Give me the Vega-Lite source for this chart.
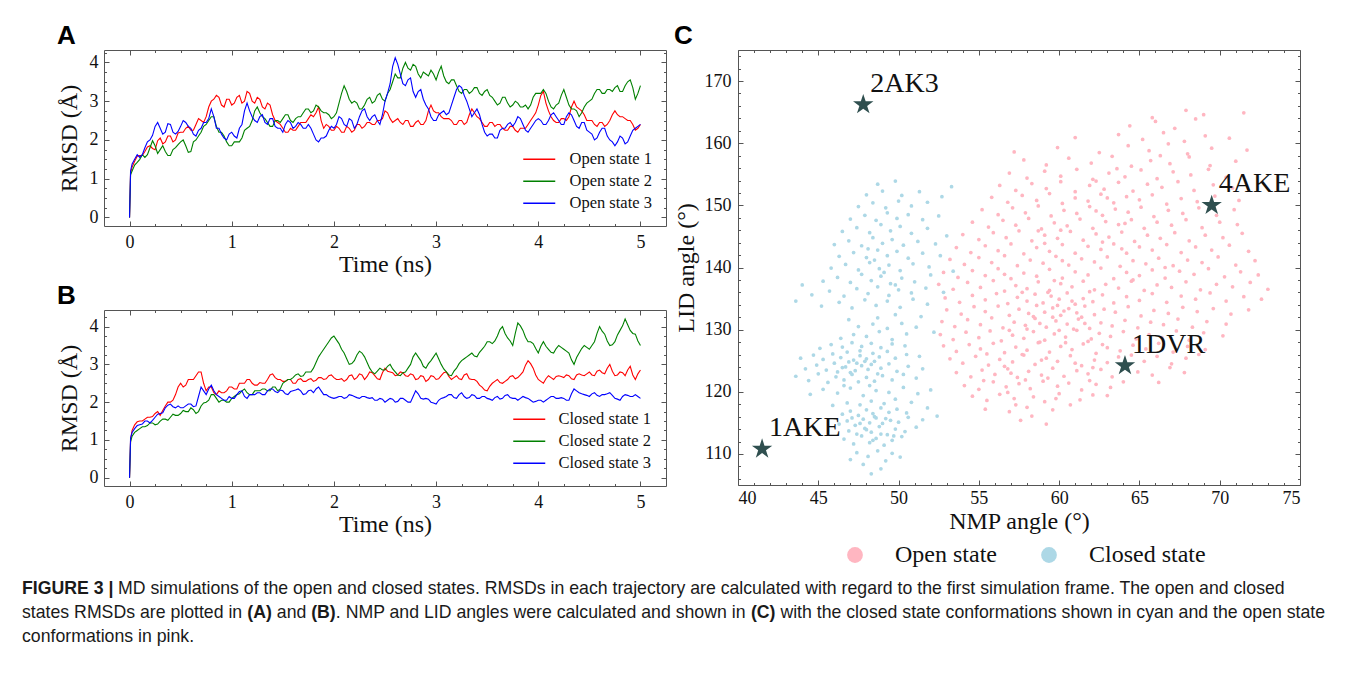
{
"$schema":"https://vega.github.io/schema/vega-lite/v6.json",
"padding":{"left":22,"top":22,"right":4,"bottom":4},
"background":"white",
"datasets":{
"rmsdA":[
{"t":0,"a":0,"b":0,"c":0},{"t":0.01,"a":1.15,"b":1.1,"c":1.2},{"t":0.05,"a":1.45,"b":1.35,"c":1.5},{"t":0.1,"a":1.6,"b":1.5,"c":1.55},{"t":0.15,"a":1.7,"b":1.55,"c":1.8},{"t":0.2,"a":1.85,"b":1.8,"c":2.0},{"t":0.25,"a":1.75,"b":1.85,"c":2.35},{"t":0.3,"a":2.05,"b":1.75,"c":2.3},{"t":0.35,"a":1.95,"b":1.7,"c":2.2},{"t":0.4,"a":2.1,"b":1.6,"c":2.4},{"t":0.45,"a":2.0,"b":1.8,"c":2.15},{"t":0.5,"a":2.2,"b":1.95,"c":2.35},{"t":0.55,"a":2.3,"b":1.85,"c":2.45},{"t":0.6,"a":2.25,"b":1.7,"c":2.3},{"t":0.65,"a":2.4,"b":2.0,"c":2.1},{"t":0.7,"a":2.5,"b":2.2,"c":2.3},{"t":0.75,"a":2.6,"b":2.4,"c":2.45},{"t":0.8,"a":3.0,"b":2.6,"c":2.8},{"t":0.85,"a":3.15,"b":2.35,"c":2.3},{"t":0.9,"a":2.9,"b":2.2,"c":2.15},{"t":0.95,"a":3.05,"b":1.95,"c":2.0},{"t":1.0,"a":2.9,"b":1.85,"c":2.2},{"t":1.05,"a":3.1,"b":1.95,"c":2.05},{"t":1.1,"a":2.95,"b":2.05,"c":2.4},{"t":1.15,"a":3.25,"b":2.3,"c":2.95},{"t":1.2,"a":3.0,"b":2.5,"c":2.6},{"t":1.25,"a":3.1,"b":2.85,"c":2.45},{"t":1.3,"a":2.85,"b":2.6,"c":2.65},{"t":1.35,"a":2.95,"b":2.45,"c":2.4},{"t":1.4,"a":2.65,"b":2.35,"c":2.55},{"t":1.45,"a":2.45,"b":2.5,"c":2.3},{"t":1.5,"a":2.3,"b":2.55,"c":2.2},{"t":1.55,"a":2.2,"b":2.65,"c":2.5},{"t":1.6,"a":2.25,"b":2.45,"c":2.3},{"t":1.65,"a":2.35,"b":2.6,"c":2.45},{"t":1.7,"a":2.45,"b":2.7,"c":2.3},{"t":1.75,"a":2.55,"b":2.8,"c":2.4},{"t":1.8,"a":2.6,"b":2.75,"c":2.15},{"t":1.85,"a":2.85,"b":2.85,"c":1.95},{"t":1.9,"a":2.3,"b":2.7,"c":2.05},{"t":1.95,"a":2.35,"b":2.65,"c":2.25},{"t":2.0,"a":2.25,"b":2.6,"c":2.3},{"t":2.05,"a":2.3,"b":2.95,"c":2.6},{"t":2.1,"a":2.2,"b":3.4,"c":2.4},{"t":2.15,"a":2.3,"b":3.05,"c":2.55},{"t":2.2,"a":2.25,"b":3.0,"c":2.3},{"t":2.25,"a":2.4,"b":2.8,"c":2.6},{"t":2.3,"a":2.35,"b":2.9,"c":2.8},{"t":2.35,"a":2.45,"b":3.1,"c":2.5},{"t":2.4,"a":2.4,"b":3.0,"c":2.65},{"t":2.45,"a":2.5,"b":3.2,"c":2.4},{"t":2.5,"a":2.75,"b":3.0,"c":3.0},{"t":2.55,"a":2.55,"b":3.3,"c":3.45},{"t":2.6,"a":2.5,"b":3.7,"c":4.12},{"t":2.65,"a":2.45,"b":3.6,"c":3.7},{"t":2.7,"a":2.5,"b":4.0,"c":3.4},{"t":2.75,"a":2.35,"b":3.8,"c":3.6},{"t":2.8,"a":2.45,"b":3.9,"c":3.1},{"t":2.85,"a":2.4,"b":3.6,"c":3.3},{"t":2.9,"a":2.5,"b":3.7,"c":2.9},{"t":2.95,"a":2.9,"b":3.8,"c":2.6},{"t":3.0,"a":2.7,"b":3.55,"c":2.5},{"t":3.05,"a":2.6,"b":3.9,"c":2.7},{"t":3.1,"a":2.55,"b":3.5,"c":2.65},{"t":3.15,"a":2.5,"b":3.55,"c":2.9},{"t":3.2,"a":2.4,"b":3.4,"c":3.3},{"t":3.25,"a":2.5,"b":3.2,"c":3.35},{"t":3.3,"a":2.45,"b":3.3,"c":3.0},{"t":3.35,"a":2.8,"b":3.25,"c":2.6},{"t":3.4,"a":2.6,"b":3.35,"c":2.8},{"t":3.45,"a":2.45,"b":3.15,"c":2.4},{"t":3.5,"a":2.35,"b":3.3,"c":2.1},{"t":3.55,"a":2.45,"b":3.1,"c":2.15},{"t":3.6,"a":2.4,"b":2.9,"c":2.05},{"t":3.65,"a":2.3,"b":3.1,"c":2.3},{"t":3.7,"a":2.25,"b":2.95,"c":2.4},{"t":3.75,"a":2.35,"b":2.9,"c":2.35},{"t":3.8,"a":2.2,"b":2.95,"c":2.6},{"t":3.85,"a":2.3,"b":2.85,"c":2.4},{"t":3.9,"a":2.4,"b":2.8,"c":2.2},{"t":3.95,"a":2.6,"b":3.1,"c":2.4},{"t":4.0,"a":2.9,"b":3.2,"c":2.55},{"t":4.05,"a":3.25,"b":3.3,"c":2.4},{"t":4.1,"a":2.75,"b":3.0,"c":2.5},{"t":4.15,"a":2.5,"b":2.8,"c":2.7},{"t":4.2,"a":2.45,"b":2.95,"c":2.5},{"t":4.25,"a":2.55,"b":3.3,"c":2.4},{"t":4.3,"a":2.6,"b":2.9,"c":2.7},{"t":4.35,"a":3.0,"b":2.8,"c":2.5},{"t":4.4,"a":2.8,"b":2.6,"c":2.3},{"t":4.45,"a":2.65,"b":2.85,"c":2.45},{"t":4.5,"a":2.5,"b":3.0,"c":2.2},{"t":4.55,"a":2.4,"b":3.2,"c":2.0},{"t":4.6,"a":2.45,"b":3.3,"c":2.2},{"t":4.65,"a":2.35,"b":3.2,"c":2.3},{"t":4.7,"a":2.5,"b":3.3,"c":2.0},{"t":4.75,"a":2.75,"b":3.35,"c":1.85},{"t":4.8,"a":2.6,"b":3.25,"c":2.1},{"t":4.85,"a":2.55,"b":3.4,"c":1.9},{"t":4.9,"a":2.5,"b":3.55,"c":2.1},{"t":4.95,"a":2.25,"b":3.05,"c":2.3},{"t":5.0,"a":2.4,"b":3.4,"c":2.4},
{"t":0.025,"a":1.3,"b":1.2,"c":1.38},{"t":0.075,"a":1.58,"b":1.42,"c":1.62},{"t":0.125,"a":1.6,"b":1.62,"c":1.62},{"t":0.175,"a":1.82,"b":1.62,"c":1.95},{"t":0.225,"a":1.78,"b":1.98,"c":2.12},{"t":0.275,"a":1.98,"b":1.65,"c":2.45},{"t":0.325,"a":1.9,"b":1.85,"c":2.15},{"t":0.375,"a":2.1,"b":1.6,"c":2.42},{"t":0.425,"a":1.95,"b":1.75,"c":2.2},{"t":0.475,"a":2.18,"b":1.88,"c":2.22},{"t":0.525,"a":2.2,"b":2.0,"c":2.5},{"t":0.575,"a":2.35,"b":1.68,"c":2.35},{"t":0.625,"a":2.25,"b":1.95,"c":2.15},{"t":0.675,"a":2.55,"b":2.1,"c":2.25},{"t":0.725,"a":2.45,"b":2.35,"c":2.45},{"t":0.775,"a":2.85,"b":2.5,"c":2.55},{"t":0.825,"a":3.05,"b":2.6,"c":2.6},{"t":0.875,"a":3.1,"b":2.2,"c":2.3},{"t":0.925,"a":2.85,"b":2.1,"c":2.05},{"t":0.975,"a":3.05,"b":1.85,"c":2.15},{"t":1.025,"a":2.95,"b":1.95,"c":2.1},{"t":1.075,"a":3.15,"b":1.95,"c":2.3},{"t":1.125,"a":3.0,"b":2.25,"c":2.75},{"t":1.175,"a":3.2,"b":2.35,"c":2.75},{"t":1.225,"a":2.95,"b":2.75,"c":2.5},{"t":1.275,"a":3.05,"b":2.7,"c":2.6},{"t":1.325,"a":2.8,"b":2.55,"c":2.45},{"t":1.375,"a":2.9,"b":2.35,"c":2.55},{"t":1.425,"a":2.5,"b":2.5,"c":2.35},{"t":1.475,"a":2.4,"b":2.45,"c":2.3},{"t":1.525,"a":2.2,"b":2.65,"c":2.4},{"t":1.575,"a":2.3,"b":2.5,"c":2.45},{"t":1.625,"a":2.25,"b":2.55,"c":2.35},{"t":1.675,"a":2.45,"b":2.6,"c":2.4},{"t":1.725,"a":2.45,"b":2.8,"c":2.3},{"t":1.775,"a":2.65,"b":2.7,"c":2.3},{"t":1.825,"a":2.7,"b":2.9,"c":2.0},{"t":1.875,"a":2.5,"b":2.75,"c":2.05},{"t":1.925,"a":2.4,"b":2.7,"c":2.1},{"t":1.975,"a":2.25,"b":2.55,"c":2.35},{"t":2.025,"a":2.35,"b":2.7,"c":2.4},{"t":2.075,"a":2.2,"b":3.2,"c":2.55},{"t":2.125,"a":2.35,"b":3.25,"c":2.35},{"t":2.175,"a":2.2,"b":2.95,"c":2.5},{"t":2.225,"a":2.4,"b":2.95,"c":2.4},{"t":2.275,"a":2.3,"b":2.8,"c":2.75},{"t":2.325,"a":2.45,"b":3.05,"c":2.6},{"t":2.375,"a":2.4,"b":2.95,"c":2.6},{"t":2.425,"a":2.5,"b":3.15,"c":2.5},{"t":2.475,"a":2.55,"b":3.05,"c":2.65},{"t":2.525,"a":2.7,"b":3.2,"c":3.2},{"t":2.575,"a":2.45,"b":3.5,"c":3.9},{"t":2.625,"a":2.55,"b":3.6,"c":3.95},{"t":2.675,"a":2.4,"b":3.85,"c":3.45},{"t":2.725,"a":2.5,"b":3.85,"c":3.55},{"t":2.775,"a":2.35,"b":3.95,"c":3.25},{"t":2.825,"a":2.5,"b":3.7,"c":3.25},{"t":2.875,"a":2.4,"b":3.75,"c":3.05},{"t":2.925,"a":2.75,"b":3.65,"c":2.8},{"t":2.975,"a":2.75,"b":3.7,"c":2.5},{"t":3.025,"a":2.7,"b":3.75,"c":2.65},{"t":3.075,"a":2.55,"b":3.65,"c":2.75},{"t":3.125,"a":2.55,"b":3.45,"c":2.7},{"t":3.175,"a":2.4,"b":3.55,"c":3.1},{"t":3.225,"a":2.5,"b":3.25,"c":3.4},{"t":3.275,"a":2.4,"b":3.3,"c":3.15},{"t":3.325,"a":2.65,"b":3.2,"c":2.8},{"t":3.375,"a":2.7,"b":3.35,"c":2.7},{"t":3.425,"a":2.55,"b":3.2,"c":2.65},{"t":3.475,"a":2.35,"b":3.25,"c":2.2},{"t":3.525,"a":2.45,"b":3.15,"c":2.15},{"t":3.575,"a":2.35,"b":3.0,"c":2.05},{"t":3.625,"a":2.4,"b":2.95,"c":2.25},{"t":3.675,"a":2.25,"b":3.1,"c":2.3},{"t":3.725,"a":2.35,"b":2.85,"c":2.45},{"t":3.775,"a":2.25,"b":3.0,"c":2.45},{"t":3.825,"a":2.3,"b":2.85,"c":2.55},{"t":3.875,"a":2.3,"b":2.9,"c":2.25},{"t":3.925,"a":2.5,"b":2.9,"c":2.3},{"t":3.975,"a":2.7,"b":3.2,"c":2.5},{"t":4.025,"a":3.15,"b":3.2,"c":2.5},{"t":4.075,"a":2.95,"b":3.2,"c":2.4},{"t":4.125,"a":2.6,"b":2.85,"c":2.65},{"t":4.175,"a":2.45,"b":2.9,"c":2.6},{"t":4.225,"a":2.55,"b":3.15,"c":2.4},{"t":4.275,"a":2.5,"b":3.1,"c":2.6},{"t":4.325,"a":2.85,"b":2.8,"c":2.65},{"t":4.375,"a":2.85,"b":2.75,"c":2.35},{"t":4.425,"a":2.75,"b":2.7,"c":2.45},{"t":4.475,"a":2.5,"b":2.95,"c":2.25},{"t":4.525,"a":2.5,"b":3.05,"c":2.15},{"t":4.575,"a":2.35,"b":3.3,"c":2.05},{"t":4.625,"a":2.45,"b":3.2,"c":2.3},{"t":4.675,"a":2.4,"b":3.3,"c":2.1},{"t":4.725,"a":2.65,"b":3.25,"c":1.95},{"t":4.775,"a":2.65,"b":3.4,"c":1.95},{"t":4.825,"a":2.6,"b":3.25,"c":2.05},{"t":4.875,"a":2.5,"b":3.5,"c":1.95},{"t":4.925,"a":2.4,"b":3.35,"c":2.25},{"t":4.975,"a":2.3,"b":3.2,"c":2.35}
],
"rmsdB":[
{"t":0,"a":0,"b":0,"c":0},{"t":0.01,"a":1.0,"b":0.95,"c":1.05},{"t":0.05,"a":1.4,"b":1.2,"c":1.3},{"t":0.1,"a":1.5,"b":1.3,"c":1.4},{"t":0.15,"a":1.55,"b":1.35,"c":1.5},{"t":0.2,"a":1.6,"b":1.45,"c":1.45},{"t":0.25,"a":1.7,"b":1.4,"c":1.6},{"t":0.3,"a":1.65,"b":1.5,"c":1.7},{"t":0.35,"a":1.9,"b":1.55,"c":1.85},{"t":0.4,"a":2.0,"b":1.6,"c":1.95},{"t":0.45,"a":2.2,"b":1.65,"c":1.85},{"t":0.5,"a":2.5,"b":1.7,"c":1.85},{"t":0.55,"a":2.45,"b":1.75,"c":1.9},{"t":0.6,"a":2.6,"b":1.85,"c":1.95},{"t":0.65,"a":2.7,"b":1.7,"c":1.9},{"t":0.7,"a":2.8,"b":1.9,"c":2.4},{"t":0.75,"a":2.3,"b":2.0,"c":2.2},{"t":0.8,"a":2.4,"b":2.2,"c":2.45},{"t":0.85,"a":2.2,"b":2.1,"c":2.2},{"t":0.9,"a":2.25,"b":2.05,"c":2.1},{"t":0.95,"a":2.3,"b":2.0,"c":2.05},{"t":1.0,"a":2.4,"b":2.1,"c":2.1},{"t":1.05,"a":2.35,"b":2.2,"c":2.2},{"t":1.1,"a":2.5,"b":2.3,"c":2.3},{"t":1.15,"a":2.6,"b":2.25,"c":2.1},{"t":1.2,"a":2.5,"b":2.2,"c":2.2},{"t":1.25,"a":2.45,"b":2.3,"c":2.25},{"t":1.3,"a":2.5,"b":2.35,"c":2.2},{"t":1.35,"a":2.6,"b":2.3,"c":2.3},{"t":1.4,"a":2.75,"b":2.4,"c":2.35},{"t":1.45,"a":2.6,"b":2.3,"c":2.25},{"t":1.5,"a":2.55,"b":2.5,"c":2.3},{"t":1.55,"a":2.6,"b":2.6,"c":2.2},{"t":1.6,"a":2.5,"b":2.65,"c":2.3},{"t":1.65,"a":2.6,"b":2.75,"c":2.35},{"t":1.7,"a":2.55,"b":2.7,"c":2.2},{"t":1.75,"a":2.6,"b":2.8,"c":2.3},{"t":1.8,"a":2.55,"b":2.9,"c":2.25},{"t":1.85,"a":2.65,"b":3.2,"c":2.4},{"t":1.9,"a":2.6,"b":3.4,"c":2.2},{"t":1.95,"a":2.7,"b":3.6,"c":2.15},{"t":2.0,"a":2.65,"b":3.75,"c":2.1},{"t":2.05,"a":2.6,"b":3.55,"c":2.15},{"t":2.1,"a":2.55,"b":3.3,"c":2.1},{"t":2.15,"a":2.7,"b":3.0,"c":2.2},{"t":2.2,"a":2.6,"b":3.1,"c":2.15},{"t":2.25,"a":2.75,"b":3.35,"c":2.1},{"t":2.3,"a":2.6,"b":3.2,"c":2.15},{"t":2.35,"a":2.8,"b":2.9,"c":2.1},{"t":2.4,"a":2.7,"b":2.75,"c":2.05},{"t":2.45,"a":2.6,"b":2.9,"c":2.1},{"t":2.5,"a":2.9,"b":2.85,"c":2.0},{"t":2.55,"a":2.8,"b":3.0,"c":2.1},{"t":2.6,"a":2.7,"b":2.8,"c":2.0},{"t":2.65,"a":2.8,"b":2.7,"c":2.1},{"t":2.7,"a":2.7,"b":2.8,"c":2.05},{"t":2.75,"a":2.75,"b":3.0,"c":2.0},{"t":2.8,"a":2.6,"b":3.3,"c":2.3},{"t":2.85,"a":2.7,"b":3.1,"c":2.1},{"t":2.9,"a":2.55,"b":2.9,"c":2.1},{"t":2.95,"a":2.7,"b":3.1,"c":2.0},{"t":3.0,"a":2.6,"b":3.3,"c":1.95},{"t":3.05,"a":2.7,"b":3.0,"c":2.1},{"t":3.1,"a":2.8,"b":2.8,"c":2.15},{"t":3.15,"a":2.6,"b":2.7,"c":2.2},{"t":3.2,"a":2.7,"b":2.9,"c":2.1},{"t":3.25,"a":2.6,"b":3.1,"c":2.25},{"t":3.3,"a":2.75,"b":3.2,"c":2.1},{"t":3.35,"a":2.6,"b":3.3,"c":2.2},{"t":3.4,"a":2.55,"b":3.2,"c":2.1},{"t":3.45,"a":2.4,"b":3.4,"c":2.15},{"t":3.5,"a":2.3,"b":3.6,"c":2.1},{"t":3.55,"a":2.5,"b":3.55,"c":2.05},{"t":3.6,"a":2.6,"b":3.75,"c":2.15},{"t":3.65,"a":2.5,"b":4.0,"c":2.1},{"t":3.7,"a":2.6,"b":3.7,"c":2.2},{"t":3.75,"a":2.7,"b":3.5,"c":2.1},{"t":3.8,"a":2.65,"b":4.1,"c":2.05},{"t":3.85,"a":2.8,"b":3.9,"c":2.15},{"t":3.9,"a":3.1,"b":3.6,"c":2.1},{"t":3.95,"a":2.9,"b":3.55,"c":2.0},{"t":4.0,"a":2.6,"b":3.3,"c":2.05},{"t":4.05,"a":2.5,"b":3.6,"c":2.0},{"t":4.1,"a":2.7,"b":3.4,"c":2.1},{"t":4.15,"a":2.6,"b":3.3,"c":2.15},{"t":4.2,"a":2.7,"b":3.5,"c":2.1},{"t":4.25,"a":2.65,"b":3.4,"c":2.1},{"t":4.3,"a":2.7,"b":3.3,"c":2.05},{"t":4.35,"a":2.6,"b":3.0,"c":2.35},{"t":4.4,"a":2.75,"b":3.3,"c":2.25},{"t":4.45,"a":2.7,"b":3.5,"c":2.2},{"t":4.5,"a":2.8,"b":3.4,"c":2.15},{"t":4.55,"a":2.7,"b":3.6,"c":2.25},{"t":4.6,"a":2.85,"b":4.0,"c":2.15},{"t":4.65,"a":2.75,"b":3.8,"c":2.2},{"t":4.7,"a":3.0,"b":3.5,"c":2.25},{"t":4.75,"a":2.7,"b":3.6,"c":2.1},{"t":4.8,"a":2.8,"b":3.9,"c":2.05},{"t":4.85,"a":2.7,"b":4.2,"c":2.2},{"t":4.9,"a":2.95,"b":3.9,"c":2.15},{"t":4.95,"a":2.6,"b":3.8,"c":2.2},{"t":5.0,"a":2.85,"b":3.5,"c":2.1},
{"t":0.025,"a":1.25,"b":1.1,"c":1.2},{"t":0.075,"a":1.48,"b":1.25,"c":1.38},{"t":0.125,"a":1.5,"b":1.35,"c":1.42},{"t":0.175,"a":1.6,"b":1.38,"c":1.5},{"t":0.225,"a":1.62,"b":1.45,"c":1.52},{"t":0.275,"a":1.75,"b":1.42,"c":1.68},{"t":0.325,"a":1.78,"b":1.55,"c":1.72},{"t":0.375,"a":2.0,"b":1.52,"c":1.92},{"t":0.425,"a":2.05,"b":1.68,"c":1.88},{"t":0.475,"a":2.4,"b":1.65,"c":1.9},{"t":0.525,"a":2.4,"b":1.78,"c":1.85},{"t":0.575,"a":2.6,"b":1.75,"c":1.95},{"t":0.625,"a":2.6,"b":1.8,"c":1.88},{"t":0.675,"a":2.8,"b":1.75,"c":2.15},{"t":0.725,"a":2.5,"b":1.98,"c":2.3},{"t":0.775,"a":2.4,"b":2.05,"c":2.35},{"t":0.825,"a":2.25,"b":2.2,"c":2.3},{"t":0.875,"a":2.3,"b":2.0,"c":2.15},{"t":0.925,"a":2.25,"b":2.05,"c":2.05},{"t":0.975,"a":2.4,"b":2.0,"c":2.15},{"t":1.025,"a":2.35,"b":2.15,"c":2.1},{"t":1.075,"a":2.5,"b":2.22,"c":2.28},{"t":1.125,"a":2.5,"b":2.35,"c":2.15},{"t":1.175,"a":2.6,"b":2.2,"c":2.2},{"t":1.225,"a":2.45,"b":2.3,"c":2.2},{"t":1.275,"a":2.52,"b":2.3,"c":2.25},{"t":1.325,"a":2.5,"b":2.35,"c":2.2},{"t":1.375,"a":2.72,"b":2.3,"c":2.35},{"t":1.425,"a":2.65,"b":2.4,"c":2.28},{"t":1.475,"a":2.6,"b":2.35,"c":2.32},{"t":1.525,"a":2.55,"b":2.55,"c":2.22},{"t":1.575,"a":2.6,"b":2.6,"c":2.28},{"t":1.625,"a":2.5,"b":2.72,"c":2.32},{"t":1.675,"a":2.62,"b":2.68,"c":2.3},{"t":1.725,"a":2.55,"b":2.8,"c":2.22},{"t":1.775,"a":2.62,"b":2.8,"c":2.32},{"t":1.825,"a":2.58,"b":3.05,"c":2.35},{"t":1.875,"a":2.65,"b":3.3,"c":2.3},{"t":1.925,"a":2.62,"b":3.5,"c":2.2},{"t":1.975,"a":2.72,"b":3.7,"c":2.12},{"t":2.025,"a":2.6,"b":3.65,"c":2.12},{"t":2.075,"a":2.62,"b":3.4,"c":2.15},{"t":2.125,"a":2.6,"b":3.15,"c":2.12},{"t":2.175,"a":2.72,"b":3.02,"c":2.18},{"t":2.225,"a":2.65,"b":3.25,"c":2.12},{"t":2.275,"a":2.72,"b":3.3,"c":2.15},{"t":2.325,"a":2.68,"b":3.05,"c":2.12},{"t":2.375,"a":2.78,"b":2.8,"c":2.12},{"t":2.425,"a":2.62,"b":2.82,"c":2.05},{"t":2.475,"a":2.78,"b":2.85,"c":2.08},{"t":2.525,"a":2.82,"b":2.95,"c":2.05},{"t":2.575,"a":2.78,"b":2.88,"c":2.08},{"t":2.625,"a":2.72,"b":2.72,"c":2.02},{"t":2.675,"a":2.78,"b":2.78,"c":2.1},{"t":2.725,"a":2.68,"b":2.9,"c":2.0},{"t":2.775,"a":2.72,"b":3.2,"c":2.15},{"t":2.825,"a":2.62,"b":3.2,"c":2.22},{"t":2.875,"a":2.68,"b":2.95,"c":2.08},{"t":2.925,"a":2.6,"b":3.02,"c":2.08},{"t":2.975,"a":2.68,"b":3.2,"c":1.98},{"t":3.025,"a":2.62,"b":3.15,"c":2.05},{"t":3.075,"a":2.78,"b":2.88,"c":2.12},{"t":3.125,"a":2.68,"b":2.72,"c":2.2},{"t":3.175,"a":2.65,"b":2.82,"c":2.12},{"t":3.225,"a":2.62,"b":3.02,"c":2.2},{"t":3.275,"a":2.72,"b":3.15,"c":2.15},{"t":3.325,"a":2.62,"b":3.25,"c":2.12},{"t":3.375,"a":2.6,"b":3.22,"c":2.18},{"t":3.425,"a":2.45,"b":3.32,"c":2.1},{"t":3.475,"a":2.32,"b":3.48,"c":2.15},{"t":3.525,"a":2.42,"b":3.6,"c":2.08},{"t":3.575,"a":2.55,"b":3.62,"c":2.12},{"t":3.625,"a":2.52,"b":3.92,"c":2.08},{"t":3.675,"a":2.55,"b":3.82,"c":2.18},{"t":3.725,"a":2.68,"b":3.62,"c":2.12},{"t":3.775,"a":2.62,"b":3.82,"c":2.1},{"t":3.825,"a":2.72,"b":4.02,"c":2.1},{"t":3.875,"a":2.98,"b":3.72,"c":2.12},{"t":3.925,"a":3.02,"b":3.6,"c":2.05},{"t":3.975,"a":2.72,"b":3.42,"c":2.02},{"t":4.025,"a":2.55,"b":3.48,"c":2.05},{"t":4.075,"a":2.62,"b":3.48,"c":2.05},{"t":4.125,"a":2.65,"b":3.32,"c":2.15},{"t":4.175,"a":2.68,"b":3.42,"c":2.1},{"t":4.225,"a":2.68,"b":3.45,"c":2.12},{"t":4.275,"a":2.72,"b":3.35,"c":2.05},{"t":4.325,"a":2.62,"b":3.12,"c":2.22},{"t":4.375,"a":2.72,"b":3.18,"c":2.3},{"t":4.425,"a":2.72,"b":3.42,"c":2.22},{"t":4.475,"a":2.75,"b":3.45,"c":2.18},{"t":4.525,"a":2.72,"b":3.5,"c":2.22},{"t":4.575,"a":2.82,"b":3.82,"c":2.18},{"t":4.625,"a":2.78,"b":3.88,"c":2.2},{"t":4.675,"a":2.9,"b":3.62,"c":2.22},{"t":4.725,"a":2.82,"b":3.52,"c":2.18},{"t":4.775,"a":2.72,"b":3.78,"c":2.08},{"t":4.825,"a":2.78,"b":4.02,"c":2.15},{"t":4.875,"a":2.85,"b":4.05,"c":2.18},{"t":4.925,"a":2.72,"b":3.82,"c":2.15},{"t":4.975,"a":2.75,"b":3.62,"c":2.15}
],
"namesA":[{"k":"a","name":"Open state 1"},{"k":"b","name":"Open state 2"},{"k":"c","name":"Open state 3"}],
"namesB":[{"k":"a","name":"Closed state 1"},{"k":"b","name":"Closed state 2"},{"k":"c","name":"Closed state 3"}],
"openpts":[
{"x":57.6,"y":115.4},{"x":59.2,"y":114.8},{"x":58.3,"y":116.1},
{"x":55.4,"y":117.2},{"x":56.9,"y":116.8},{"x":58.0,"y":117.5},{"x":59.6,"y":117.1},{"x":60.7,"y":117.9},{"x":57.3,"y":117.9},
{"x":54.6,"y":119.3},{"x":55.5,"y":118.6},{"x":56.3,"y":119.6},{"x":57.2,"y":118.9},{"x":58.4,"y":119.2},{"x":59.1,"y":118.4},{"x":60.0,"y":119.7},{"x":61.3,"y":118.7},{"x":62.1,"y":119.5},{"x":56.8,"y":119.9},{"x":59.8,"y":118.9},{"x":63.0,"y":119.4},
{"x":54.1,"y":121.0},{"x":55.0,"y":120.4},{"x":55.9,"y":121.6},{"x":56.7,"y":120.8},{"x":57.5,"y":121.3},{"x":58.2,"y":120.5},{"x":59.0,"y":121.7},{"x":59.9,"y":120.9},{"x":60.6,"y":121.4},{"x":61.4,"y":120.3},{"x":62.3,"y":121.2},{"x":63.2,"y":120.7},{"x":64.0,"y":121.6},{"x":57.9,"y":121.9},{"x":55.3,"y":121.8},{"x":61.9,"y":121.8},{"x":66.2,"y":121.5},
{"x":53.6,"y":123.1},{"x":54.5,"y":122.4},{"x":55.2,"y":123.5},{"x":56.0,"y":122.8},{"x":56.8,"y":123.7},{"x":57.4,"y":122.3},{"x":58.1,"y":123.3},{"x":58.9,"y":122.7},{"x":59.6,"y":123.8},{"x":60.3,"y":122.5},{"x":61.1,"y":123.4},{"x":61.8,"y":122.9},{"x":62.6,"y":123.6},{"x":63.3,"y":122.4},{"x":64.9,"y":123.2},{"x":65.8,"y":122.7},{"x":66.9,"y":123.9},{"x":67.8,"y":123.1},{"x":57.0,"y":123.0},{"x":59.3,"y":122.2},{"x":62.1,"y":123.9},
{"x":53.2,"y":125.3},{"x":54.0,"y":124.6},{"x":54.8,"y":125.7},{"x":55.6,"y":124.3},{"x":56.3,"y":125.2},{"x":57.1,"y":124.8},{"x":57.8,"y":125.9},{"x":58.5,"y":124.4},{"x":59.2,"y":125.4},{"x":59.9,"y":124.9},{"x":60.7,"y":125.8},{"x":61.4,"y":124.2},{"x":62.2,"y":125.1},{"x":63.0,"y":124.7},{"x":63.7,"y":125.6},{"x":65.3,"y":124.9},{"x":66.1,"y":125.7},{"x":67.0,"y":124.5},{"x":67.9,"y":125.4},{"x":68.7,"y":126.0},{"x":56.6,"y":124.1},{"x":58.9,"y":125.1},{"x":61.0,"y":124.6},{"x":64.5,"y":125.9},
{"x":52.8,"y":127.4},{"x":53.6,"y":126.5},{"x":54.4,"y":127.6},{"x":55.1,"y":126.9},{"x":55.9,"y":127.8},{"x":56.6,"y":126.3},{"x":57.3,"y":127.2},{"x":58.0,"y":126.7},{"x":58.7,"y":127.9},{"x":59.4,"y":126.4},{"x":60.1,"y":127.3},{"x":60.8,"y":126.8},{"x":61.5,"y":127.7},{"x":62.3,"y":126.2},{"x":63.0,"y":127.1},{"x":63.8,"y":126.6},{"x":64.6,"y":127.5},{"x":65.4,"y":126.9},{"x":66.2,"y":127.8},{"x":67.1,"y":126.4},{"x":68.0,"y":127.3},{"x":69.1,"y":126.8},{"x":57.7,"y":126.0},{"x":60.4,"y":127.9},{"x":62.7,"y":127.6},{"x":55.5,"y":126.1},
{"x":52.6,"y":129.2},{"x":53.4,"y":128.4},{"x":54.2,"y":129.6},{"x":55.0,"y":128.7},{"x":55.7,"y":129.8},{"x":56.4,"y":128.2},{"x":57.1,"y":129.1},{"x":57.8,"y":128.6},{"x":58.4,"y":129.7},{"x":59.1,"y":128.3},{"x":59.7,"y":129.3},{"x":60.4,"y":128.8},{"x":61.1,"y":129.9},{"x":61.8,"y":128.1},{"x":62.5,"y":129.4},{"x":63.2,"y":128.9},{"x":64.0,"y":129.7},{"x":64.8,"y":128.5},{"x":65.6,"y":129.2},{"x":66.4,"y":128.7},{"x":67.3,"y":129.8},{"x":68.1,"y":128.3},{"x":69.0,"y":129.5},{"x":70.2,"y":129.0},{"x":58.8,"y":128.0},{"x":60.0,"y":129.9},{"x":62.0,"y":128.5},{"x":56.9,"y":129.9},
{"x":52.7,"y":131.3},{"x":53.5,"y":130.5},{"x":54.3,"y":131.6},{"x":55.1,"y":130.8},{"x":55.8,"y":131.9},{"x":56.5,"y":130.3},{"x":57.2,"y":131.2},{"x":57.9,"y":130.7},{"x":58.5,"y":131.8},{"x":59.2,"y":130.4},{"x":59.8,"y":131.4},{"x":60.5,"y":130.9},{"x":61.2,"y":131.7},{"x":61.9,"y":130.2},{"x":62.6,"y":131.1},{"x":63.3,"y":130.6},{"x":64.1,"y":131.5},{"x":64.9,"y":130.3},{"x":65.7,"y":131.2},{"x":66.5,"y":130.8},{"x":67.4,"y":131.7},{"x":68.3,"y":130.4},{"x":69.2,"y":131.3},{"x":70.4,"y":130.9},{"x":58.0,"y":130.1},{"x":59.6,"y":132.0},{"x":60.9,"y":130.1},{"x":58.8,"y":131.0},{"x":61.6,"y":131.0},
{"x":53.0,"y":133.2},{"x":53.9,"y":132.5},{"x":54.7,"y":133.7},{"x":55.4,"y":132.9},{"x":56.2,"y":133.8},{"x":56.9,"y":132.3},{"x":57.5,"y":133.3},{"x":58.1,"y":132.6},{"x":58.6,"y":133.9},{"x":59.1,"y":132.8},{"x":59.6,"y":133.5},{"x":60.1,"y":132.3},{"x":60.6,"y":133.4},{"x":61.1,"y":132.7},{"x":61.6,"y":133.8},{"x":62.2,"y":132.4},{"x":62.8,"y":133.3},{"x":63.5,"y":132.8},{"x":64.3,"y":133.7},{"x":65.1,"y":132.2},{"x":65.9,"y":133.1},{"x":66.8,"y":132.6},{"x":67.7,"y":133.6},{"x":68.6,"y":132.9},{"x":69.6,"y":133.4},{"x":70.7,"y":132.5},{"x":71.8,"y":133.2},{"x":58.4,"y":132.1},{"x":59.9,"y":133.9},{"x":61.4,"y":132.0},{"x":60.3,"y":133.0},
{"x":52.9,"y":135.1},{"x":53.8,"y":134.4},{"x":54.6,"y":135.5},{"x":55.4,"y":134.8},{"x":56.1,"y":135.8},{"x":56.8,"y":134.2},{"x":57.4,"y":135.2},{"x":58.0,"y":134.6},{"x":58.5,"y":135.7},{"x":59.0,"y":134.3},{"x":59.5,"y":135.4},{"x":60.0,"y":134.9},{"x":60.5,"y":135.9},{"x":61.0,"y":134.1},{"x":61.5,"y":135.0},{"x":62.1,"y":134.5},{"x":62.7,"y":135.6},{"x":63.4,"y":134.3},{"x":64.2,"y":135.3},{"x":65.0,"y":134.7},{"x":65.8,"y":135.8},{"x":66.7,"y":134.4},{"x":67.6,"y":135.4},{"x":68.5,"y":134.9},{"x":69.4,"y":135.9},{"x":70.4,"y":134.6},{"x":71.5,"y":135.3},{"x":72.6,"y":134.9},{"x":59.3,"y":136.0},{"x":60.8,"y":134.6},{"x":57.7,"y":136.0},
{"x":52.5,"y":137.3},{"x":53.4,"y":136.5},{"x":54.3,"y":137.6},{"x":55.1,"y":136.8},{"x":55.9,"y":137.9},{"x":56.6,"y":136.2},{"x":57.3,"y":137.1},{"x":58.0,"y":136.6},{"x":58.7,"y":137.7},{"x":59.4,"y":136.3},{"x":60.1,"y":137.4},{"x":60.8,"y":136.9},{"x":61.5,"y":137.8},{"x":62.2,"y":136.4},{"x":62.9,"y":137.3},{"x":63.7,"y":136.7},{"x":64.5,"y":137.8},{"x":65.3,"y":136.3},{"x":66.1,"y":137.2},{"x":67.0,"y":136.8},{"x":67.9,"y":137.7},{"x":68.8,"y":136.4},{"x":69.8,"y":137.3},{"x":70.8,"y":136.9},{"x":71.9,"y":137.6},{"x":73.0,"y":136.5},{"x":59.7,"y":137.9},{"x":61.9,"y":136.1},
{"x":52.8,"y":139.2},{"x":53.7,"y":138.4},{"x":54.6,"y":139.5},{"x":55.4,"y":138.7},{"x":56.2,"y":139.8},{"x":57.0,"y":138.2},{"x":57.8,"y":139.1},{"x":58.6,"y":138.6},{"x":59.4,"y":139.7},{"x":60.2,"y":138.3},{"x":61.0,"y":139.3},{"x":61.8,"y":138.8},{"x":62.6,"y":139.9},{"x":63.4,"y":138.2},{"x":64.2,"y":139.2},{"x":65.0,"y":138.7},{"x":65.8,"y":139.6},{"x":66.6,"y":138.3},{"x":67.5,"y":139.4},{"x":68.4,"y":138.9},{"x":69.3,"y":139.8},{"x":70.3,"y":138.5},{"x":71.3,"y":139.3},{"x":72.4,"y":138.8},{"x":56.6,"y":138.9},{"x":64.6,"y":138.0},
{"x":53.2,"y":141.3},{"x":54.1,"y":140.5},{"x":55.0,"y":141.6},{"x":55.8,"y":140.8},{"x":56.6,"y":141.9},{"x":57.4,"y":140.3},{"x":58.2,"y":141.2},{"x":59.0,"y":140.7},{"x":59.8,"y":141.8},{"x":60.6,"y":140.4},{"x":61.4,"y":141.4},{"x":62.2,"y":140.9},{"x":63.0,"y":141.7},{"x":63.8,"y":140.2},{"x":64.6,"y":141.1},{"x":65.4,"y":140.6},{"x":66.2,"y":141.5},{"x":67.1,"y":140.3},{"x":68.0,"y":141.2},{"x":68.9,"y":140.8},{"x":69.9,"y":141.7},{"x":71.0,"y":140.4},{"x":72.2,"y":141.1},{"x":60.2,"y":141.1},{"x":66.6,"y":140.0},
{"x":53.6,"y":143.2},{"x":54.5,"y":142.4},{"x":55.4,"y":143.5},{"x":56.2,"y":142.7},{"x":57.0,"y":143.8},{"x":57.8,"y":142.2},{"x":58.6,"y":143.2},{"x":59.4,"y":142.6},{"x":60.2,"y":143.7},{"x":61.0,"y":142.3},{"x":61.8,"y":143.4},{"x":62.6,"y":142.9},{"x":63.4,"y":143.8},{"x":64.2,"y":142.3},{"x":65.0,"y":143.3},{"x":65.8,"y":142.8},{"x":66.7,"y":143.7},{"x":67.6,"y":142.4},{"x":68.5,"y":143.3},{"x":69.5,"y":142.8},{"x":70.6,"y":143.6},{"x":71.8,"y":142.6},{"x":59.1,"y":143.9},{"x":63.9,"y":143.0},
{"x":54.0,"y":145.3},{"x":55.0,"y":144.5},{"x":55.9,"y":145.6},{"x":56.7,"y":144.8},{"x":57.5,"y":145.9},{"x":58.3,"y":144.3},{"x":59.1,"y":145.2},{"x":59.9,"y":144.7},{"x":60.7,"y":145.8},{"x":61.5,"y":144.4},{"x":62.3,"y":145.4},{"x":63.1,"y":144.9},{"x":63.9,"y":145.7},{"x":64.7,"y":144.2},{"x":65.5,"y":145.2},{"x":66.3,"y":144.7},{"x":67.2,"y":145.6},{"x":68.1,"y":144.3},{"x":69.1,"y":145.2},{"x":70.2,"y":144.8},{"x":71.4,"y":145.5},{"x":58.7,"y":145.9},{"x":62.7,"y":144.1},
{"x":54.6,"y":147.3},{"x":55.6,"y":146.5},{"x":56.5,"y":147.6},{"x":57.3,"y":146.8},{"x":58.1,"y":147.9},{"x":58.9,"y":146.2},{"x":59.7,"y":147.2},{"x":60.5,"y":146.7},{"x":61.3,"y":147.8},{"x":62.1,"y":146.3},{"x":62.9,"y":147.4},{"x":63.7,"y":146.9},{"x":64.5,"y":147.7},{"x":65.3,"y":146.3},{"x":66.1,"y":147.3},{"x":67.0,"y":146.8},{"x":67.9,"y":147.7},{"x":68.9,"y":146.4},{"x":70.0,"y":147.3},{"x":71.1,"y":146.9},{"x":60.1,"y":146.0},{"x":64.1,"y":147.1},
{"x":55.2,"y":149.3},{"x":56.2,"y":148.5},{"x":57.1,"y":149.6},{"x":57.9,"y":148.8},{"x":58.7,"y":149.9},{"x":59.5,"y":148.3},{"x":60.3,"y":149.2},{"x":61.1,"y":148.7},{"x":61.9,"y":149.8},{"x":62.7,"y":148.4},{"x":63.5,"y":149.4},{"x":64.3,"y":148.9},{"x":65.1,"y":149.7},{"x":65.9,"y":148.2},{"x":66.8,"y":149.2},{"x":67.7,"y":148.7},{"x":68.7,"y":149.6},{"x":69.8,"y":148.4},{"x":70.9,"y":149.3},{"x":62.3,"y":149.1},
{"x":55.8,"y":151.3},{"x":56.8,"y":150.5},{"x":57.7,"y":151.6},{"x":58.6,"y":150.8},{"x":59.4,"y":151.9},{"x":60.2,"y":150.3},{"x":61.0,"y":151.2},{"x":61.8,"y":150.7},{"x":62.6,"y":151.8},{"x":63.4,"y":150.4},{"x":64.2,"y":151.4},{"x":65.0,"y":150.9},{"x":65.8,"y":151.7},{"x":66.7,"y":150.2},{"x":67.6,"y":151.1},{"x":68.6,"y":150.6},{"x":69.7,"y":151.5},{"x":71.2,"y":150.8},{"x":63.0,"y":151.2},
{"x":56.3,"y":153.2},{"x":57.3,"y":152.4},{"x":58.3,"y":153.5},{"x":59.2,"y":152.7},{"x":60.1,"y":153.8},{"x":61.0,"y":152.2},{"x":61.9,"y":153.2},{"x":62.8,"y":152.6},{"x":63.7,"y":153.7},{"x":64.6,"y":152.3},{"x":65.5,"y":153.4},{"x":66.4,"y":152.9},{"x":67.4,"y":153.8},{"x":68.4,"y":152.4},{"x":69.6,"y":153.3},{"x":70.8,"y":152.8},{"x":62.3,"y":153.9},
{"x":56.9,"y":155.2},{"x":58.0,"y":154.4},{"x":59.1,"y":155.5},{"x":60.1,"y":154.7},{"x":61.1,"y":155.8},{"x":62.1,"y":154.2},{"x":63.1,"y":155.2},{"x":64.1,"y":154.6},{"x":65.1,"y":155.7},{"x":66.1,"y":154.3},{"x":67.1,"y":155.4},{"x":68.2,"y":154.9},{"x":69.3,"y":155.8},{"x":70.4,"y":154.5},{"x":63.6,"y":155.9},
{"x":57.8,"y":157.3},{"x":59.2,"y":156.5},{"x":60.6,"y":157.6},{"x":62.0,"y":156.8},{"x":63.3,"y":157.9},{"x":64.5,"y":156.3},{"x":65.7,"y":157.2},{"x":66.9,"y":156.7},{"x":68.1,"y":157.8},{"x":69.4,"y":156.4},{"x":71.0,"y":157.1},{"x":66.3,"y":158.0},
{"x":57.2,"y":158.6},{"x":59.9,"y":159.3},{"x":62.5,"y":158.5},{"x":64.3,"y":159.6},{"x":65.6,"y":158.8},{"x":66.8,"y":159.9},{"x":68.0,"y":158.3},{"x":69.5,"y":159.2},{"x":71.7,"y":158.9},
{"x":61.0,"y":160.9},{"x":63.7,"y":161.4},{"x":65.2,"y":160.6},{"x":66.5,"y":161.7},{"x":67.8,"y":160.3},{"x":69.1,"y":161.2},{"x":70.6,"y":160.8},
{"x":64.4,"y":162.8},{"x":66.0,"y":163.5},{"x":67.2,"y":162.4},{"x":68.5,"y":163.9},{"x":67.9,"y":165.3},{"x":69.0,"y":164.6},{"x":71.5,"y":164.9},{"x":65.8,"y":164.1}
],
"closedpts":[
{"x":48.3,"y":106.8},{"x":48.9,"y":107.6},{"x":47.8,"y":108.3},{"x":49.2,"y":108.9},{"x":48.1,"y":109.6},{"x":47.4,"y":110.2},{"x":48.7,"y":110.5},{"x":49.6,"y":110.1},{"x":47.0,"y":109.1},{"x":50.1,"y":109.5},
{"x":46.6,"y":112.4},{"x":47.2,"y":111.6},{"x":47.7,"y":112.9},{"x":48.2,"y":111.8},{"x":48.6,"y":112.5},{"x":49.1,"y":111.4},{"x":49.6,"y":112.2},{"x":50.2,"y":112.8},{"x":46.9,"y":113.7},{"x":47.4,"y":113.2},{"x":47.9,"y":114.1},{"x":48.3,"y":113.5},{"x":48.8,"y":114.4},{"x":49.3,"y":113.1},{"x":49.8,"y":114.0},{"x":50.4,"y":113.6},{"x":51.1,"y":114.3},{"x":46.3,"y":114.8},{"x":46.8,"y":115.3},{"x":47.3,"y":114.6},{"x":47.8,"y":115.6},{"x":48.2,"y":115.0},{"x":48.6,"y":115.8},{"x":49.0,"y":114.9},{"x":49.5,"y":115.4},{"x":50.0,"y":115.1},{"x":50.6,"y":115.9},{"x":51.5,"y":115.5},{"x":46.5,"y":116.4},{"x":47.0,"y":116.9},{"x":47.5,"y":116.2},{"x":48.0,"y":117.1},{"x":48.4,"y":116.5},{"x":48.9,"y":117.4},{"x":49.4,"y":116.7},{"x":49.9,"y":117.2},{"x":50.5,"y":116.6},{"x":45.9,"y":117.8},{"x":46.8,"y":118.2},{"x":47.6,"y":117.9},{"x":48.3,"y":118.5},{"x":49.1,"y":118.1},{"x":49.8,"y":118.8},{"x":50.8,"y":118.3},{"x":51.8,"y":117.4},{"x":52.4,"y":116.1},{"x":48.0,"y":113.9},{"x":48.5,"y":116.0},{"x":47.6,"y":114.9},{"x":49.2,"y":115.7},{"x":48.9,"y":113.2},{"x":47.1,"y":115.8},{"x":49.7,"y":112.9},{"x":48.4,"y":112.2},
{"x":44.5,"y":119.6},{"x":45.3,"y":120.4},{"x":46.2,"y":119.8},{"x":47.0,"y":120.6},{"x":47.8,"y":119.4},{"x":48.6,"y":120.2},{"x":49.4,"y":119.9},{"x":50.3,"y":120.7},{"x":51.2,"y":119.7},{"x":52.0,"y":120.3},{"x":46.6,"y":121.0},{"x":48.2,"y":121.0},
{"x":43.6,"y":122.5},{"x":44.4,"y":121.8},{"x":45.0,"y":122.9},{"x":45.6,"y":121.5},{"x":46.1,"y":122.4},{"x":46.6,"y":121.9},{"x":47.1,"y":122.8},{"x":47.5,"y":121.6},{"x":48.0,"y":122.3},{"x":48.5,"y":121.7},{"x":49.0,"y":122.6},{"x":49.6,"y":121.9},{"x":50.3,"y":122.8},{"x":51.1,"y":122.2},{"x":44.2,"y":123.7},{"x":44.9,"y":124.3},{"x":45.5,"y":123.5},{"x":46.0,"y":124.6},{"x":46.5,"y":123.9},{"x":46.9,"y":124.8},{"x":47.3,"y":123.4},{"x":47.7,"y":124.2},{"x":48.1,"y":123.6},{"x":48.5,"y":124.9},{"x":48.9,"y":123.8},{"x":49.4,"y":124.5},{"x":49.9,"y":123.3},{"x":50.6,"y":124.1},{"x":51.5,"y":123.7},{"x":43.9,"y":125.4},{"x":44.7,"y":125.9},{"x":45.3,"y":125.2},{"x":45.9,"y":126.1},{"x":46.4,"y":125.5},{"x":46.8,"y":126.4},{"x":47.2,"y":125.1},{"x":47.6,"y":125.8},{"x":48.0,"y":125.3},{"x":48.4,"y":126.2},{"x":48.8,"y":125.6},{"x":49.3,"y":126.5},{"x":49.8,"y":125.4},{"x":50.5,"y":126.0},{"x":51.3,"y":125.7},{"x":45.1,"y":127.0},{"x":45.8,"y":127.6},{"x":46.5,"y":127.2},{"x":47.1,"y":127.9},{"x":47.7,"y":127.3},{"x":48.3,"y":127.8},{"x":48.9,"y":127.1},{"x":49.6,"y":127.7},{"x":50.4,"y":127.4},{"x":47.4,"y":124.6},{"x":47.9,"y":124.9},{"x":46.7,"y":124.0},{"x":48.3,"y":124.4},{"x":47.0,"y":123.1},{"x":47.6,"y":126.6},{"x":46.2,"y":123.2},{"x":48.7,"y":122.9},
{"x":46.4,"y":128.6},{"x":47.2,"y":129.2},{"x":48.0,"y":128.9},{"x":48.8,"y":129.7},{"x":49.6,"y":128.4},{"x":50.5,"y":129.3},{"x":47.5,"y":130.5},{"x":48.4,"y":130.9},{"x":49.3,"y":130.2},{"x":50.2,"y":131.0},{"x":51.1,"y":130.4},{"x":46.9,"y":131.6},{"x":48.7,"y":131.9},{"x":49.8,"y":132.4},{"x":51.4,"y":132.1},{"x":52.2,"y":129.6},
{"x":45.2,"y":133.8},{"x":46.3,"y":134.4},{"x":47.1,"y":133.5},{"x":47.9,"y":134.8},{"x":48.6,"y":133.9},{"x":49.3,"y":134.6},{"x":50.1,"y":133.6},{"x":50.9,"y":134.9},{"x":51.8,"y":134.1},{"x":44.6,"y":135.6},{"x":45.7,"y":136.2},{"x":46.6,"y":135.4},{"x":47.4,"y":136.6},{"x":48.1,"y":135.8},{"x":48.7,"y":136.9},{"x":49.4,"y":135.5},{"x":50.0,"y":136.4},{"x":50.8,"y":135.9},{"x":51.7,"y":136.7},{"x":45.3,"y":137.8},{"x":46.2,"y":138.4},{"x":47.0,"y":137.6},{"x":47.7,"y":138.9},{"x":48.3,"y":137.9},{"x":48.9,"y":138.6},{"x":49.5,"y":137.4},{"x":50.2,"y":138.3},{"x":51.0,"y":137.7},{"x":52.0,"y":138.8},{"x":45.8,"y":139.9},{"x":46.7,"y":140.5},{"x":47.5,"y":139.6},{"x":48.2,"y":140.8},{"x":48.8,"y":139.8},{"x":49.4,"y":140.4},{"x":50.1,"y":139.5},{"x":50.9,"y":140.6},{"x":51.9,"y":140.1},{"x":46.3,"y":141.8},{"x":47.2,"y":142.4},{"x":48.0,"y":141.6},{"x":48.7,"y":142.8},{"x":49.3,"y":141.9},{"x":49.9,"y":142.6},{"x":50.6,"y":141.5},{"x":51.5,"y":142.3},{"x":52.6,"y":141.9},{"x":46.0,"y":143.7},{"x":46.9,"y":144.3},{"x":47.7,"y":143.5},{"x":48.4,"y":144.8},{"x":49.0,"y":143.9},{"x":49.6,"y":144.5},{"x":50.3,"y":143.6},{"x":51.2,"y":144.2},{"x":52.3,"y":143.8},{"x":46.5,"y":145.8},{"x":47.4,"y":146.4},{"x":48.2,"y":145.6},{"x":48.9,"y":146.9},{"x":49.5,"y":145.9},{"x":50.1,"y":146.6},{"x":50.8,"y":145.5},{"x":51.8,"y":146.3},{"x":47.0,"y":147.8},{"x":47.9,"y":148.4},{"x":48.6,"y":147.6},{"x":49.3,"y":148.8},{"x":49.9,"y":147.9},{"x":50.6,"y":148.5},{"x":51.5,"y":147.7},{"x":52.5,"y":148.3},{"x":47.5,"y":149.8},{"x":48.4,"y":150.4},{"x":49.2,"y":149.6},{"x":50.0,"y":150.7},{"x":50.8,"y":149.9},{"x":51.8,"y":150.5},{"x":48.0,"y":151.7},{"x":49.0,"y":152.3},{"x":50.2,"y":151.6},{"x":51.3,"y":152.2},{"x":52.7,"y":151.4},{"x":48.7,"y":153.4},{"x":49.8,"y":153.9},{"x":53.3,"y":153.0},{"x":44.0,"y":137.2},{"x":43.6,"y":134.6},{"x":52.8,"y":136.0},{"x":53.4,"y":139.4},{"x":53.0,"y":145.1},{"x":49.1,"y":139.2},{"x":48.5,"y":141.2},{"x":49.8,"y":137.2},{"x":48.1,"y":143.0}
],
"stars":[{"name":"2AK3","x":47.8,"y":166.2},{"name":"4AKE","x":69.5,"y":150.0},{"name":"1DVR","x":64.1,"y":124.2},{"name":"1AKE","x":41.5,"y":110.8}]
},
"vconcat":[
{"hconcat":[
 {"vconcat":[
  {"width":562,"height":176,
   "title":{"text":"A","anchor":"start","offset":1},
   "layer":[
    {"data":{"name":"rmsdA"},"transform":[{"fold":["a","b","c"],"as":["k","r"]},{"lookup":"k","from":{"data":{"name":"namesA"},"key":"k","fields":["name"]}}],
     "mark":{"type":"line","strokeWidth":1.1},
     "encoding":{
      "x":{"field":"t","type":"quantitative","scale":{"domain":[-0.25,5.25],"nice":false,"zero":false},"axis":{"orient":"bottom","values":[0,1,2,3,4,5],"title":"Time (ns)","ticks":false,"labelPadding":7,"titlePadding":1}},
      "y":{"field":"r","type":"quantitative","scale":{"domain":[-0.22,4.32],"nice":false,"zero":false},"axis":{"orient":"left","values":[0,1,2,3,4],"title":"RMSD (Å)","ticks":false,"labelPadding":6,"titlePadding":8}},
      "color":{"field":"name","type":"nominal","scale":{"domain":["Open state 1","Open state 2","Open state 3"],"range":["#ff0000","#008000","#0000ff"]},
       "legend":{"title":null,"orient":"bottom-right","offset":14,"symbolType":"M-3.2,0H3.2","symbolSize":100,"symbolStrokeWidth":1.5,"labelOffset":22,"labelFontSize":16.5,"rowPadding":5,"padding":0}}
     }},
    {"data":{"values":[{"t":0,"r":0}]},"mark":{"type":"point","opacity":0},
     "encoding":{"x":{"field":"t","type":"quantitative","scale":{"domain":[-0.25,5.25],"nice":false,"zero":false},"axis":{"orient":"bottom","values":[0,1,2,3,4,5],"labels":false,"title":null,"tickSize":-5}},
      "y":{"field":"r","type":"quantitative","scale":{"domain":[-0.22,4.32],"nice":false,"zero":false},"axis":{"orient":"left","values":[0,1,2,3,4],"labels":false,"title":null,"tickSize":-5}}}},
    {"data":{"values":[{"t":0,"r":0}]},"mark":{"type":"point","opacity":0},
     "encoding":{"x":{"field":"t","type":"quantitative","scale":{"domain":[-0.25,5.25],"nice":false,"zero":false},"axis":{"orient":"bottom","values":[0.25,0.5,0.75,1.25,1.5,1.75,2.25,2.5,2.75,3.25,3.5,3.75,4.25,4.5,4.75],"labels":false,"title":null,"tickSize":-2.5}},
      "y":{"field":"r","type":"quantitative","scale":{"domain":[-0.22,4.32],"nice":false,"zero":false},"axis":{"orient":"left","values":[0.25,0.5,0.75,1.25,1.5,1.75,2.25,2.5,2.75,3.25,3.5,3.75,4.25],"labels":false,"title":null,"tickSize":-2.5}}}},
    {"data":{"values":[{"t":0,"r":0}]},"mark":{"type":"point","opacity":0},
     "encoding":{"x":{"field":"t","type":"quantitative","scale":{"domain":[-0.25,5.25],"nice":false,"zero":false},"axis":{"orient":"top","values":[0,1,2,3,4,5],"labels":false,"title":null,"tickSize":-5}},
      "y":{"field":"r","type":"quantitative","scale":{"domain":[-0.22,4.32],"nice":false,"zero":false},"axis":{"orient":"right","values":[0,1,2,3,4],"labels":false,"title":null,"tickSize":-5}}}},
    {"data":{"values":[{"t":0,"r":0}]},"mark":{"type":"point","opacity":0},
     "encoding":{"x":{"field":"t","type":"quantitative","scale":{"domain":[-0.25,5.25],"nice":false,"zero":false},"axis":{"orient":"top","values":[0.25,0.5,0.75,1.25,1.5,1.75,2.25,2.5,2.75,3.25,3.5,3.75,4.25,4.5,4.75],"labels":false,"title":null,"tickSize":-2.5}},
      "y":{"field":"r","type":"quantitative","scale":{"domain":[-0.22,4.32],"nice":false,"zero":false},"axis":{"orient":"right","values":[0.25,0.5,0.75,1.25,1.5,1.75,2.25,2.5,2.75,3.25,3.5,3.75,4.25],"labels":false,"title":null,"tickSize":-2.5}}}}
   ],
   "resolve":{"axis":{"x":"independent","y":"independent"}}
  },
  {"width":562,"height":176,
   "title":{"text":"B","anchor":"start","offset":1},
   "layer":[
    {"data":{"name":"rmsdB"},"transform":[{"fold":["a","b","c"],"as":["k","r"]},{"lookup":"k","from":{"data":{"name":"namesB"},"key":"k","fields":["name"]}}],
     "mark":{"type":"line","strokeWidth":1.1},
     "encoding":{
      "x":{"field":"t","type":"quantitative","scale":{"domain":[-0.25,5.25],"nice":false,"zero":false},"axis":{"orient":"bottom","values":[0,1,2,3,4,5],"title":"Time (ns)","ticks":false,"labelPadding":7,"titlePadding":1}},
      "y":{"field":"r","type":"quantitative","scale":{"domain":[-0.22,4.44],"nice":false,"zero":false},"axis":{"orient":"left","values":[0,1,2,3,4],"title":"RMSD (Å)","ticks":false,"labelPadding":6,"titlePadding":8}},
      "color":{"field":"name","type":"nominal","scale":{"domain":["Closed state 1","Closed state 2","Closed state 3"],"range":["#ff0000","#008000","#0000ff"]},
       "legend":{"title":null,"orient":"bottom-right","offset":14,"symbolType":"M-3.2,0H3.2","symbolSize":100,"symbolStrokeWidth":1.5,"labelOffset":21,"labelFontSize":16.5,"rowPadding":5,"padding":0}}
     }},
    {"data":{"values":[{"t":0,"r":0}]},"mark":{"type":"point","opacity":0},
     "encoding":{"x":{"field":"t","type":"quantitative","scale":{"domain":[-0.25,5.25],"nice":false,"zero":false},"axis":{"orient":"bottom","values":[0,1,2,3,4,5],"labels":false,"title":null,"tickSize":-5}},
      "y":{"field":"r","type":"quantitative","scale":{"domain":[-0.22,4.44],"nice":false,"zero":false},"axis":{"orient":"left","values":[0,1,2,3,4],"labels":false,"title":null,"tickSize":-5}}}},
    {"data":{"values":[{"t":0,"r":0}]},"mark":{"type":"point","opacity":0},
     "encoding":{"x":{"field":"t","type":"quantitative","scale":{"domain":[-0.25,5.25],"nice":false,"zero":false},"axis":{"orient":"bottom","values":[0.25,0.5,0.75,1.25,1.5,1.75,2.25,2.5,2.75,3.25,3.5,3.75,4.25,4.5,4.75],"labels":false,"title":null,"tickSize":-2.5}},
      "y":{"field":"r","type":"quantitative","scale":{"domain":[-0.22,4.44],"nice":false,"zero":false},"axis":{"orient":"left","values":[0.25,0.5,0.75,1.25,1.5,1.75,2.25,2.5,2.75,3.25,3.5,3.75,4.25],"labels":false,"title":null,"tickSize":-2.5}}}},
    {"data":{"values":[{"t":0,"r":0}]},"mark":{"type":"point","opacity":0},
     "encoding":{"x":{"field":"t","type":"quantitative","scale":{"domain":[-0.25,5.25],"nice":false,"zero":false},"axis":{"orient":"top","values":[0,1,2,3,4,5],"labels":false,"title":null,"tickSize":-5}},
      "y":{"field":"r","type":"quantitative","scale":{"domain":[-0.22,4.44],"nice":false,"zero":false},"axis":{"orient":"right","values":[0,1,2,3,4],"labels":false,"title":null,"tickSize":-5}}}},
    {"data":{"values":[{"t":0,"r":0}]},"mark":{"type":"point","opacity":0},
     "encoding":{"x":{"field":"t","type":"quantitative","scale":{"domain":[-0.25,5.25],"nice":false,"zero":false},"axis":{"orient":"top","values":[0.25,0.5,0.75,1.25,1.5,1.75,2.25,2.5,2.75,3.25,3.5,3.75,4.25,4.5,4.75],"labels":false,"title":null,"tickSize":-2.5}},
      "y":{"field":"r","type":"quantitative","scale":{"domain":[-0.22,4.44],"nice":false,"zero":false},"axis":{"orient":"right","values":[0.25,0.5,0.75,1.25,1.5,1.75,2.25,2.5,2.75,3.25,3.5,3.75,4.25],"labels":false,"title":null,"tickSize":-2.5}}}}
   ],
   "resolve":{"axis":{"x":"independent","y":"independent"}}
  }
 ],"spacing":5,"resolve":{"scale":{"color":"independent"}}},
 {"width":562,"height":435,
  "title":{"text":"C","anchor":"start","offset":1},
  "layer":[
   {"data":{"name":"openpts"},"mark":{"type":"circle","size":14,"opacity":1},
    "encoding":{
     "x":{"field":"x","type":"quantitative","scale":{"domain":[40,75],"nice":false,"zero":false},"axis":{"orient":"bottom","values":[40,45,50,55,60,65,70,75],"title":"NMP angle (°)","ticks":false,"labelPadding":4,"titlePadding":2}},
     "y":{"field":"y","type":"quantitative","scale":{"domain":[105,175],"nice":false,"zero":false},"axis":{"orient":"left","values":[110,120,130,140,150,160,170],"title":"LID angle (°)","ticks":false,"labelPadding":7,"titlePadding":6}},
     "color":{"datum":"Open state","type":"nominal","scale":{"domain":["Open state","Closed state"],"range":["#FFB6C1","#ADD8E6"]},
      "legend":{"title":null,"orient":"none","legendX":105,"legendY":493,"direction":"horizontal","symbolType":"circle","symbolSize":250,"symbolOpacity":1,"labelFontSize":24,"labelOffset":28,"columnPadding":40,"padding":0}}
    }},
   {"data":{"name":"closedpts"},"mark":{"type":"circle","size":14,"opacity":1},
    "encoding":{
     "x":{"field":"x","type":"quantitative","scale":{"domain":[40,75],"nice":false,"zero":false},"axis":null},
     "y":{"field":"y","type":"quantitative","scale":{"domain":[105,175],"nice":false,"zero":false},"axis":null},
     "color":{"datum":"Closed state","type":"nominal"}
    }},
   {"data":{"name":"stars"},"mark":{"type":"point","shape":"M0,-1L0.2245,-0.309L0.9511,-0.309L0.3633,0.118L0.5878,0.809L0,0.382L-0.5878,0.809L-0.3633,0.118L-0.9511,-0.309L-0.2245,-0.309Z","filled":true,"size":460,"color":"#2F4F4F","opacity":1},
    "encoding":{
     "x":{"field":"x","type":"quantitative","scale":{"domain":[40,75],"nice":false,"zero":false},"axis":null},
     "y":{"field":"y","type":"quantitative","scale":{"domain":[105,175],"nice":false,"zero":false},"axis":null}
    }},
   {"data":{"name":"stars"},"mark":{"type":"text","align":"left","baseline":"alphabetic","dx":7,"dy":-13,"fontSize":28,"font":"Liberation Serif","color":"#111"},
    "encoding":{
     "x":{"field":"x","type":"quantitative","scale":{"domain":[40,75],"nice":false,"zero":false},"axis":null},
     "y":{"field":"y","type":"quantitative","scale":{"domain":[105,175],"nice":false,"zero":false},"axis":null},
     "text":{"field":"name"}
    }},
   {"data":{"values":[{"x":40,"y":110}]},"mark":{"type":"point","opacity":0},
    "encoding":{"x":{"field":"x","type":"quantitative","scale":{"domain":[40,75],"nice":false,"zero":false},"axis":{"orient":"bottom","values":[40,45,50,55,60,65,70,75],"labels":false,"title":null,"tickSize":-5}},
     "y":{"field":"y","type":"quantitative","scale":{"domain":[105,175],"nice":false,"zero":false},"axis":{"orient":"left","values":[110,120,130,140,150,160,170],"labels":false,"title":null,"tickSize":-5}}}},
   {"data":{"values":[{"x":40,"y":110}]},"mark":{"type":"point","opacity":0},
    "encoding":{"x":{"field":"x","type":"quantitative","scale":{"domain":[40,75],"nice":false,"zero":false},"axis":{"orient":"bottom","values":[41,42,43,44,46,47,48,49,51,52,53,54,56,57,58,59,61,62,63,64,66,67,68,69,71,72,73,74],"labels":false,"title":null,"tickSize":-2.5}},
     "y":{"field":"y","type":"quantitative","scale":{"domain":[105,175],"nice":false,"zero":false},"axis":{"orient":"left","values":[106,108,112,114,116,118,122,124,126,128,132,134,136,138,142,144,146,148,152,154,156,158,162,164,166,168,172,174],"labels":false,"title":null,"tickSize":-2.5}}}},
   {"data":{"values":[{"x":40,"y":110}]},"mark":{"type":"point","opacity":0},
    "encoding":{"x":{"field":"x","type":"quantitative","scale":{"domain":[40,75],"nice":false,"zero":false},"axis":{"orient":"top","values":[40,45,50,55,60,65,70,75],"labels":false,"title":null,"tickSize":-5}},
     "y":{"field":"y","type":"quantitative","scale":{"domain":[105,175],"nice":false,"zero":false},"axis":{"orient":"right","values":[110,120,130,140,150,160,170],"labels":false,"title":null,"tickSize":-5}}}},
   {"data":{"values":[{"x":40,"y":110}]},"mark":{"type":"point","opacity":0},
    "encoding":{"x":{"field":"x","type":"quantitative","scale":{"domain":[40,75],"nice":false,"zero":false},"axis":{"orient":"top","values":[41,42,43,44,46,47,48,49,51,52,53,54,56,57,58,59,61,62,63,64,66,67,68,69,71,72,73,74],"labels":false,"title":null,"tickSize":-2.5}},
     "y":{"field":"y","type":"quantitative","scale":{"domain":[105,175],"nice":false,"zero":false},"axis":{"orient":"right","values":[106,108,112,114,116,118,122,124,126,128,132,134,136,138,142,144,146,148,152,154,156,158,162,164,166,168,172,174],"labels":false,"title":null,"tickSize":-2.5}}}}
  ],
  "resolve":{"axis":{"x":"independent","y":"independent"}}
 }
],"spacing":6,"resolve":{"scale":{"color":"independent"}}},
{"width":1200,"height":48,"view":{"stroke":null},
 "data":{"values":[{"k":1}]},
 "layer":[
  {"mark":{"type":"text","text":"FIGURE 3 |","fontWeight":"bold","dx":-82,"align":"left","baseline":"alphabetic","font":"Liberation Sans","fontSize":17.7,"color":"#1a1a1a"},
   "encoding":{"x":{"datum":0,"type":"quantitative","scale":{"domain":[0,1]},"axis":null},"y":{"datum":0,"type":"quantitative","scale":{"domain":[0,2],"reverse":true},"axis":null}}},
  {"mark":{"type":"text","text":"MD simulations of the open and closed states. RMSDs in each trajectory are calculated with regard to the first simulation frame. The open and closed","dx":14,"align":"left","baseline":"alphabetic","font":"Liberation Sans","fontSize":17.7,"color":"#1a1a1a"},
   "encoding":{"x":{"datum":0,"type":"quantitative","axis":null},"y":{"datum":0,"type":"quantitative","axis":null}}},
  {"mark":{"type":"text","text":"states RMSDs are plotted in","dx":-82,"align":"left","baseline":"alphabetic","font":"Liberation Sans","fontSize":17.7,"color":"#1a1a1a"},
   "encoding":{"x":{"datum":0,"type":"quantitative","axis":null},"y":{"datum":1,"type":"quantitative","axis":null}}},
  {"mark":{"type":"text","text":"(A)","fontWeight":"bold","dx":143.3,"align":"left","baseline":"alphabetic","font":"Liberation Sans","fontSize":17.7,"color":"#1a1a1a"},
   "encoding":{"x":{"datum":0,"type":"quantitative","axis":null},"y":{"datum":1,"type":"quantitative","axis":null}}},
  {"mark":{"type":"text","text":"and","dx":172.8,"align":"left","baseline":"alphabetic","font":"Liberation Sans","fontSize":17.7,"color":"#1a1a1a"},
   "encoding":{"x":{"datum":0,"type":"quantitative","axis":null},"y":{"datum":1,"type":"quantitative","axis":null}}},
  {"mark":{"type":"text","text":"(B)","fontWeight":"bold","dx":207.2,"align":"left","baseline":"alphabetic","font":"Liberation Sans","fontSize":17.7,"color":"#1a1a1a"},
   "encoding":{"x":{"datum":0,"type":"quantitative","axis":null},"y":{"datum":1,"type":"quantitative","axis":null}}},
  {"mark":{"type":"text","text":". NMP and LID angles were calculated and shown in","dx":231.8,"align":"left","baseline":"alphabetic","font":"Liberation Sans","fontSize":17.7,"color":"#1a1a1a"},
   "encoding":{"x":{"datum":0,"type":"quantitative","axis":null},"y":{"datum":1,"type":"quantitative","axis":null}}},
  {"mark":{"type":"text","text":"(C)","fontWeight":"bold","dx":646.9,"align":"left","baseline":"alphabetic","font":"Liberation Sans","fontSize":17.7,"color":"#1a1a1a"},
   "encoding":{"x":{"datum":0,"type":"quantitative","axis":null},"y":{"datum":1,"type":"quantitative","axis":null}}},
  {"mark":{"type":"text","text":"with the closed state conformations shown in cyan and the open state","dx":676.4,"align":"left","baseline":"alphabetic","font":"Liberation Sans","fontSize":17.7,"color":"#1a1a1a"},
   "encoding":{"x":{"datum":0,"type":"quantitative","axis":null},"y":{"datum":1,"type":"quantitative","axis":null}}},
  {"mark":{"type":"text","text":"conformations in pink.","dx":-82,"align":"left","baseline":"alphabetic","font":"Liberation Sans","fontSize":17.7,"color":"#1a1a1a"},
   "encoding":{"x":{"datum":0,"type":"quantitative","axis":null},"y":{"datum":2,"type":"quantitative","axis":null}}}
 ]
}
],
"spacing":12,
"config":{
 "view":{"stroke":"#555","strokeWidth":1},
 "axis":{"grid":false,"domain":false,"labelFont":"Liberation Serif","labelFontSize":18,"labelColor":"#111","titleFont":"Liberation Serif","titleFontSize":24,"titleFontWeight":"normal","titleColor":"#111","tickColor":"#555","tickWidth":1},
 "legend":{"labelFont":"Liberation Serif","labelColor":"#111"},
 "title":{"font":"Liberation Sans","fontSize":26,"fontWeight":"bold","color":"#000"}
}
}
